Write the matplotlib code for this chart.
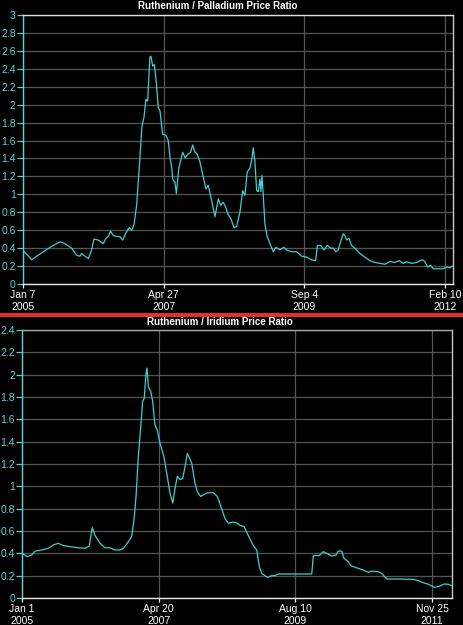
import matplotlib.pyplot as plt
import numpy as np

plt.rcParams['font.family'] = ['Liberation Sans', 'DejaVu Sans']

# Ruthenium / Palladium ratio (x = sample week since Jan 7 2005)
rp_week = [0, 7.9, 12.2, 21.0, 26.7, 32.6, 36.9, 42.8, 47.1, 50.0, 51.5, 54.4, 57.3, 60.2,
           62.2, 66.0, 70.4, 72.7, 74.7, 76.8, 79.1, 82.1, 84.9, 87.3, 90.2, 93.1, 95.2,
           97.2, 99.5, 101.8, 104.1, 105.9, 107.6, 109.1, 111.1, 112.0, 113.5, 114.9,
           116.4, 118.4, 119.9, 122.2, 125.1, 127.1, 128.7, 130.1, 131.2, 132.9, 134.2,
           136.3, 139.7, 141.7, 144.6, 146.7, 148.4, 150.4, 152.4, 154.8, 157.7, 160.0,
           162.0, 165.0, 167.9, 170.8, 172.9, 175.1, 177.2, 179.5, 181.8, 184.5, 186.8,
           189.7, 192.1, 194.1, 196.1, 198.4, 200.2, 201.3, 202.8, 204.3, 205.7, 207.2,
           208.0, 208.9, 210.0, 211.5, 213.5, 215.9, 218.8, 221.1, 224.6, 228.1, 230.5,
           234.8, 239.2, 243.6, 247.9, 252.3, 255.8, 257.4, 260.2, 263.0, 265.9, 268.9,
           271.2, 273.5, 275.5, 277.6, 279.9, 281.4, 282.9, 284.9, 287.2, 290.1, 294.5,
           298.9, 303.2, 307.6, 311.9, 316.3, 320.7, 325.0, 328.8, 332.3, 335.2, 339.6,
           344.0, 346.8, 349.2, 351.2, 353.6, 356.2, 358.5, 362.8, 367.2, 370.2, 373.0,
           375.1]
rp_ratio = [0.38, 0.27, 0.31, 0.385, 0.43, 0.47, 0.45, 0.40, 0.32, 0.31, 0.34, 0.31, 0.285,
            0.38, 0.50, 0.49, 0.45, 0.51, 0.53, 0.59, 0.54, 0.53, 0.53, 0.49, 0.57, 0.63,
            0.60, 0.66, 0.88, 1.30, 1.75, 1.86, 2.06, 2.04, 2.53, 2.54, 2.43, 2.45, 2.29,
            1.97, 1.93, 1.67, 1.66, 1.60, 1.41, 1.30, 1.16, 1.14, 1.01, 1.29, 1.47, 1.41,
            1.45, 1.47, 1.55, 1.47, 1.45, 1.36, 1.19, 1.06, 1.10, 0.93, 0.75, 0.95, 0.88,
            0.91, 0.86, 0.77, 0.73, 0.63, 0.64, 0.80, 1.04, 0.99, 1.25, 1.29, 1.40, 1.52,
            1.36, 1.04, 1.03, 1.17, 1.03, 1.21, 1.01, 0.67, 0.53, 0.45, 0.36, 0.41, 0.38,
            0.41, 0.38, 0.36, 0.36, 0.31, 0.30, 0.27, 0.26, 0.43, 0.43, 0.38, 0.43, 0.40,
            0.40, 0.36, 0.38, 0.47, 0.56, 0.54, 0.49, 0.51, 0.43, 0.40, 0.34, 0.30, 0.26,
            0.24, 0.23, 0.22, 0.25, 0.24, 0.26, 0.23, 0.25, 0.23, 0.24, 0.26, 0.27, 0.25,
            0.19, 0.21, 0.17, 0.17, 0.17, 0.19, 0.18, 0.20]
rp_tick_week = [0, 123, 246, 369]
rp_tick_label = ['Jan 7\n2005', 'Apr 27\n2007', 'Sep 4\n2009', 'Feb 10\n2012']

# Ruthenium / Iridium ratio (x = week since Jan 1 2005)
ri_week = [0, 4.7, 8.5, 11.4, 17.3, 23.1, 27.5, 31.9, 36.2, 42.1, 49.4, 55.3, 59.1, 60.3,
           61.7, 64.1, 68.5, 72.8, 77.2, 81.6, 86.0, 88.9, 92.4, 96.3, 98.3, 100.1, 102.1,
           104.2, 105.9, 107.3, 108.8, 109.7, 110.9, 113.0, 114.7, 116.7, 118.8, 121.1,
           124.6, 127.0, 129.9, 132.3, 134.3, 136.3, 138.7, 141.0, 143.1, 145.1, 148.9,
           151.8, 153.9, 156.8, 162.1, 167.9, 171.4, 175.3, 178.2, 181.1, 185.5, 189.0,
           191.3, 194.9, 198.6, 203.0, 206.0, 208.3, 210.4, 213.3, 215.3, 219.2, 222.1,
           225.0, 254.3, 255.7, 260.9, 264.5, 267.4, 271.8, 275.6, 277.6, 280.6, 282.6,
           286.4, 288.5, 293.8, 299.6, 303.9, 306.9, 312.7, 315.7, 320.1, 331.8, 343.4,
           347.8, 352.2, 356.6, 359.6, 362.5, 366.9, 370.4, 374.2, 377.1]
ri_ratio = [0.40, 0.37, 0.385, 0.42, 0.43, 0.445, 0.475, 0.49, 0.47, 0.46, 0.45, 0.445,
            0.465, 0.55, 0.63, 0.56, 0.49, 0.45, 0.45, 0.43, 0.43, 0.445, 0.49, 0.55, 0.70,
            0.91, 1.27, 1.53, 1.76, 1.79, 2.01, 2.06, 1.89, 1.85, 1.76, 1.55, 1.50, 1.385,
            1.265, 1.12, 0.94, 0.85, 0.98, 1.09, 1.06, 1.07, 1.175, 1.295, 1.21, 1.03,
            0.95, 0.91, 0.94, 0.945, 0.91, 0.80, 0.71, 0.67, 0.68, 0.67, 0.65, 0.64, 0.56,
            0.47, 0.43, 0.28, 0.22, 0.20, 0.185, 0.20, 0.20, 0.215, 0.215, 0.38, 0.38,
            0.415, 0.40, 0.376, 0.385, 0.42, 0.42, 0.355, 0.325, 0.29, 0.27, 0.25, 0.23,
            0.24, 0.235, 0.22, 0.17, 0.17, 0.167, 0.155, 0.137, 0.123, 0.107, 0.095, 0.107,
            0.125, 0.123, 0.11]
ri_tick_week = [0, 120, 240, 360]
ri_tick_label = ['Jan 1\n2005', 'Apr 20\n2007', 'Aug 10\n2009', 'Nov 25\n2011']

LINE = '#3fd0d0'
AXC = '#5fd3d3'
GRID = '#555555'

fig = plt.figure(figsize=(4.63, 6.25), dpi=100, facecolor='black')


def panel(rect, x, y, xmax, ymax, ticks, labels, title, title_x, title_y, top_col):
    ax = fig.add_axes(rect, facecolor='black')
    ax.plot(x, y, color=LINE, lw=0.9)
    ax.set_xlim(0, xmax)
    ax.set_ylim(0, ymax)
    yt = np.arange(0, ymax + 0.01, 0.2).round(1)
    ax.set_yticks(yt)
    ax.set_yticklabels([f'{v:g}' for v in yt])
    ax.set_xticks(ticks)
    ax.set_xticklabels(labels, linespacing=1.3)
    ax.grid(True, color=GRID, lw=0.9)
    ax.tick_params(axis='y', colors=AXC, labelsize=7.5, length=4, width=0.9, pad=1)
    ax.tick_params(axis='x', colors='white', labelsize=7.5, length=3, width=0.9, pad=1)
    ax.spines['left'].set_color(AXC)
    ax.spines['bottom'].set_color('#e8e8e8')
    ax.spines['top'].set_color(top_col)
    ax.spines['right'].set_color('#c8c8c8')
    for s in ax.spines.values():
        s.set_linewidth(1)
    fig.text(title_x, title_y, title, color='white', fontsize=7, fontweight='bold',
             ha='center', va='center')
    return ax


panel([0.049, 0.5456, 0.929, 0.4304], rp_week, rp_ratio, 375.6, 3.0,
      rp_tick_week, rp_tick_label, 'Ruthenium / Palladium Price Ratio',
      0.47, 1 - 6 / 625, '#e0e0e0')
panel([0.0475, 0.0432, 0.9295, 0.4288], ri_week, ri_ratio, 377.7, 2.4,
      ri_tick_week, ri_tick_label, 'Ruthenium / Iridium Price Ratio',
      0.475, 1 - 322 / 625, '#a8a8a8')

fig.add_artist(plt.Line2D([0, 1], [1 - 315 / 625] * 2, color='#e03030', lw=3,
                          transform=fig.transFigure))

fig.savefig('out.png', dpi=100, facecolor='black')
